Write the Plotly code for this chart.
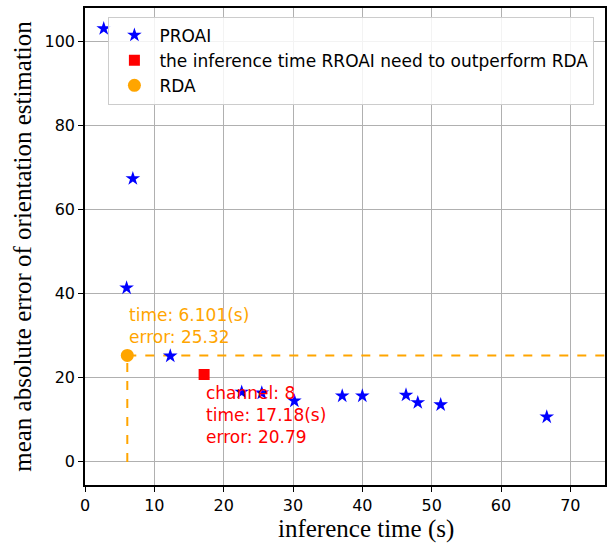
import plotly.graph_objects as go

proai_time = [2.7, 6.9, 6.0, 12.3, 22.6, 25.5, 30.2, 37.1, 40.0, 46.3, 48.0, 51.3, 66.6]
proai_err = [103.1, 67.4, 41.4, 25.2, 16.6, 16.4, 14.5, 15.7, 15.7, 15.9, 14.1, 13.6, 10.7]
rroai_time = [17.18]
rroai_err = [20.79]
rroai_channel = 8
rda_time = [6.101]
rda_err = [25.32]

x_ticks = [0, 10, 20, 30, 40, 50, 60, 70]
y_ticks = [0, 20, 40, 60, 80, 100]

orange = "#FFA500"
fig = go.Figure()
# dashed guide lines
fig.add_trace(go.Scatter(x=[rda_time[0], 80], y=[rda_err[0], rda_err[0]], mode="lines",
                         line=dict(color=orange, dash="dash", width=2), showlegend=False, hoverinfo="skip"))
fig.add_trace(go.Scatter(x=[rda_time[0], rda_time[0]], y=[0, rda_err[0]], mode="lines",
                         line=dict(color=orange, dash="dash", width=2), showlegend=False, hoverinfo="skip"))
fig.add_trace(go.Scatter(x=proai_time, y=proai_err, mode="markers", name="PROAI",
                         marker=dict(symbol="star", color="blue", size=11, line=dict(width=0))))
fig.add_trace(go.Scatter(x=rroai_time, y=rroai_err, mode="markers",
                         name="the inference time RROAI need to outperform RDA",
                         marker=dict(symbol="square", color="red", size=11, line=dict(width=0))))
fig.add_trace(go.Scatter(x=rda_time, y=rda_err, mode="markers", name="RDA",
                         marker=dict(symbol="circle", color=orange, size=13, line=dict(width=0))))

fig.add_annotation(x=rda_time[0], y=37.8, xanchor="left", yanchor="top", showarrow=False, align="left",
                   text=f"time: {rda_time[0]}(s)<br>error: {rda_err[0]}",
                   font=dict(color=orange, size=17, family="DejaVu Sans"))
fig.add_annotation(x=17.2, y=19.2, xanchor="left", yanchor="top", showarrow=False, align="left",
                   text=f"channel: {rroai_channel}<br>time: {rroai_time[0]}(s)<br>error: {rroai_err[0]}",
                   font=dict(color="red", size=17, family="DejaVu Sans"))
# x axis title (placed as in the reference, whose plot area runs past the right edge)
fig.add_annotation(xref="paper", yref="paper", x=0.54, y=-0.093, xanchor="center", yanchor="middle",
                   showarrow=False, text="inference time (s)",
                   font=dict(family="Liberation Serif", size=25, color="black"))

axis_common = dict(showgrid=True, gridcolor="#b0b0b0", gridwidth=1, zeroline=False,
                   showline=True, linecolor="black", linewidth=1.5, ticks="outside",
                   ticklen=5, tickcolor="black", mirror=True,
                   tickfont=dict(family="DejaVu Sans", size=16, color="black"))
fig.update_xaxes(range=[0, 75], tickvals=x_ticks, **axis_common)
fig.update_yaxes(range=[-5.5, 108], tickvals=y_ticks,
                 title=dict(text="mean absolute error of orientation estimation", font=dict(family="Liberation Serif", size=25, color="black"), standoff=6),
                 **axis_common)
fig.update_layout(width=607, height=543, margin=dict(l=85, r=0, t=8, b=58),
                  plot_bgcolor="white", paper_bgcolor="white",
                  legend=dict(x=0.045, y=0.982, xanchor="left", yanchor="top",
                              bgcolor="rgba(255,255,255,0.85)", bordercolor="#cccccc", borderwidth=1,
                              font=dict(family="DejaVu Sans", size=17, color="black"), itemwidth=40,
                              tracegroupgap=0))
fig.write_html("out.html")
